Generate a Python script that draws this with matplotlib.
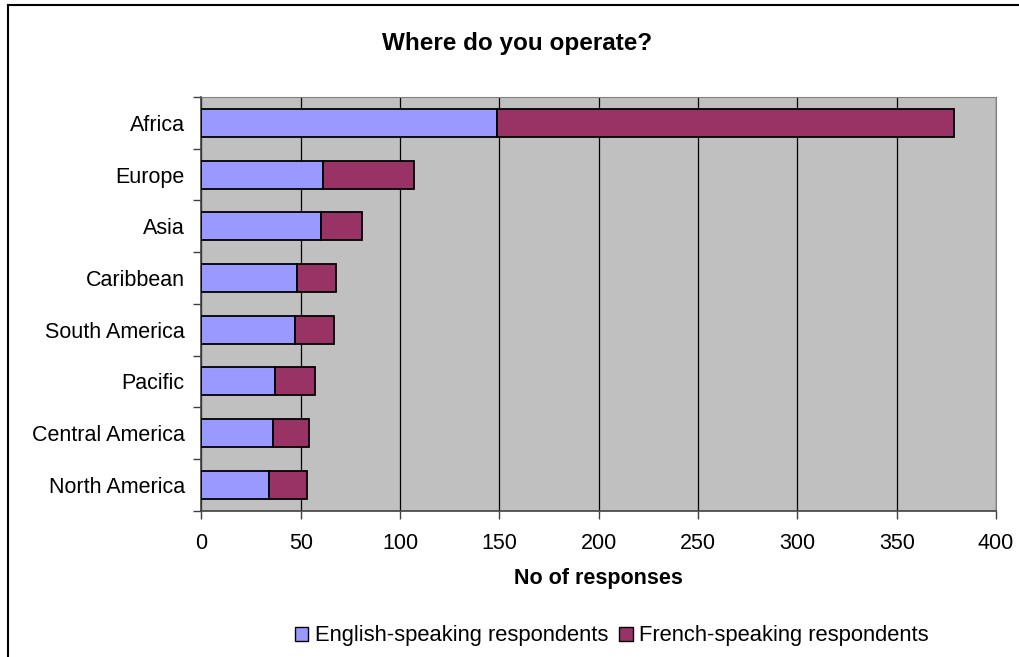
import matplotlib
matplotlib.use('Agg')
import matplotlib.pyplot as plt
from matplotlib.lines import Line2D
from matplotlib.patches import Patch

plt.rcParams['font.family'] = ['Liberation Sans', 'DejaVu Sans']

# Data (top to bottom as in the chart)
regions = ['Africa', 'Europe', 'Asia', 'Caribbean', 'South America',
           'Pacific', 'Central America', 'North America']
english = [149, 61, 60, 48, 47, 37, 36, 34]
french = [230, 46, 21, 20, 20, 20, 18, 19]

eng_color = '#9999FF'
fr_color = '#993366'
fs = 15.5

fig = plt.figure(figsize=(10.2, 6.57), dpi=100)
ax = fig.add_axes([0.1974, 0.2227, 0.7791, 0.6297])
ax.set_facecolor('#C0C0C0')

ypos = list(range(len(regions)))[::-1]
ax.barh(ypos, english, height=0.54, color=eng_color, edgecolor='black',
        linewidth=1.3, zorder=3)
ax.barh(ypos, french, left=english, height=0.54, color=fr_color,
        edgecolor='black', linewidth=1.3, zorder=3)

ax.set_xlim(0, 400)
ax.set_ylim(-0.5, len(regions) - 0.5)
ax.set_xticks(range(0, 401, 50))
ax.tick_params(axis='x', labelsize=fs, length=6, width=1, color='#404040', pad=10)
ax.xaxis.grid(True, color='black', linewidth=0.9, zorder=1)
ax.set_axisbelow(True)

# category labels with ticks at the boundaries
ax.set_yticks(ypos)
ax.set_yticklabels(regions, fontsize=fs)
ax.tick_params(axis='y', length=0, pad=12)
ax.set_yticks([i - 0.5 for i in range(len(regions) + 1)], minor=True)
ax.tick_params(axis='y', which='minor', length=6, width=1, color='#404040')

for s in ['top', 'right']:
    ax.spines[s].set_color('#808080')
for s in ['left', 'bottom']:
    ax.spines[s].set_color('#404040')
    ax.spines[s].set_linewidth(1.2)

ax.set_xlabel('No of responses', fontsize=fs, fontweight='bold', labelpad=10)
fig.text(0.507, 0.934, 'Where do you operate?', ha='center', va='center',
         fontsize=17.5, fontweight='bold')

handles = [Patch(facecolor=eng_color, edgecolor='black', label='English-speaking respondents'),
           Patch(facecolor=fr_color, edgecolor='black', label='French-speaking respondents')]
fig.legend(handles=handles, loc='center', bbox_to_anchor=(0.6, 0.032), ncol=2,
           frameon=False, fontsize=15.8, handlelength=0.6, handleheight=0.6,
           handletextpad=0.3, columnspacing=0.5)

# outer chart frame (cut at right and bottom)
fig.add_artist(Line2D([0.0078, 0.0078], [0, 0.9924], transform=fig.transFigure,
                      color='black', linewidth=1.5))
fig.add_artist(Line2D([0.0078, 1.0], [0.9924, 0.9924], transform=fig.transFigure,
                      color='black', linewidth=1.5))

fig.savefig('out.png', dpi=100)
